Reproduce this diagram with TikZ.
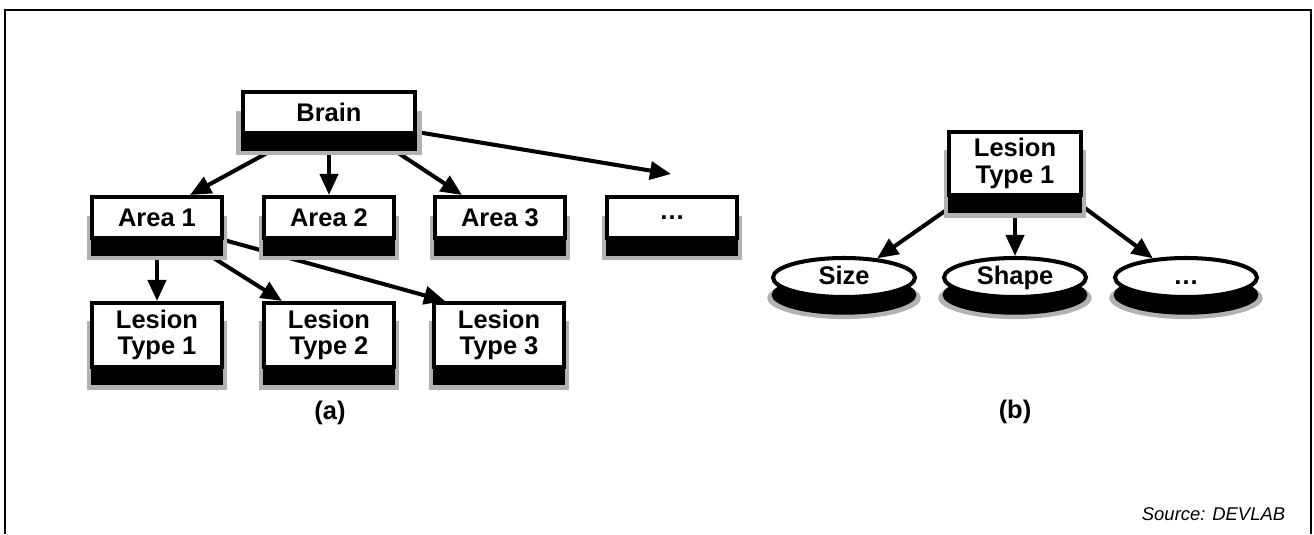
\documentclass[tikz,border=0pt]{standalone}
\usepackage{fontspec}
\setmainfont{Liberation Sans}
\usetikzlibrary{arrows.meta,shadows,backgrounds,shapes.geometric}

\begin{document}
\begin{tikzpicture}[x=0.02cm,y=-0.02cm,line width=2.3pt,
  lbl/.style={font=\bfseries\fontsize{14.5}{15}\selectfont},
  box/.style={lbl,draw,fill=white,minimum width=2.6cm,minimum height=0.82cm,
    inner sep=0pt,align=center,
    general shadow={fill=gray!60,shadow yshift=-0.38cm,shadow scale=1.08},
    general shadow={fill=black,shadow yshift=-0.34cm,shadow scale=1.02}},
  oval/.style={box,ellipse,minimum width=2.84cm,minimum height=0.78cm,
    text height=1.7ex,text depth=0.1ex},
  arr/.style={line width=2.3pt,-{Triangle[length=0.42cm,width=0.36cm]}}]
 \useasboundingbox (0,0) rectangle (1314,534);
 \draw[line width=1pt] (5,534) -- (5,10) -- (1311,10) -- (1311,534);
 % (a) brain hierarchy
 \node[box,minimum width=3.44cm] (brain) at (329,112.5) {Brain};
 \foreach \n/\x/\lab in {a1/157/Area 1,a2/329/Area 2,a3/500/Area 3,a4/672/\ldots}
   \node[box] (\n) at (\x,217.5) {\lab};
 \foreach \n/\x/\k in {t1/157/1,t2/329/2,t3/499/3}
   \node[box,minimum height=1.28cm] (\n) at (\x,335) {Lesion\\Type \k};
 \coordinate (etc) at (671,174);
 \node[lbl] (capa) at (330,413) {(a)};
 % (b) lesion attributes
 \node[box,minimum width=2.64cm,minimum height=1.26cm] (lt) at (1015,163.5) {Lesion\\Type 1};
 \foreach \n/\x/\lab in {size/844/Size,shape/1015/Shape,more/1186/\ldots}
   \node[oval] (\n) at (\x,277.5) {\lab};
 \node[lbl] (capb) at (1015,412) {(b)};
 \node[font=\itshape\fontsize{10.5}{12}\selectfont,anchor=base east] (src) at (1293,520) {Source: DEVLAB};
 \begin{pgfonlayer}{background}
  \draw[arr] ([xshift=-0.58cm]brain.south) -- ([xshift=0.66cm]a1.north);
  \draw[arr] (brain) -- (a2);
  \draw[arr] ([xshift=0.84cm]brain.south) -- ([xshift=-0.76cm]a3.north);
  \draw[arr] ([yshift=0.06cm]brain.south east) -- (etc);
  \draw[arr] (a1) -- (t1);
  \draw[arr] ([xshift=0.56cm]a1.south) -- ([xshift=-0.94cm]t2.north);
  \draw[arr] (a1.south east) -- ([xshift=-1.08cm]t3.north);
  \draw[arr] ([xshift=-1cm]lt.south) -- (size.30);
  \draw[arr] (lt) -- (shape);
  \draw[arr] ([xshift=1.1cm]lt.south) -- (more.150);
 \end{pgfonlayer}
\end{tikzpicture}
\end{document}
